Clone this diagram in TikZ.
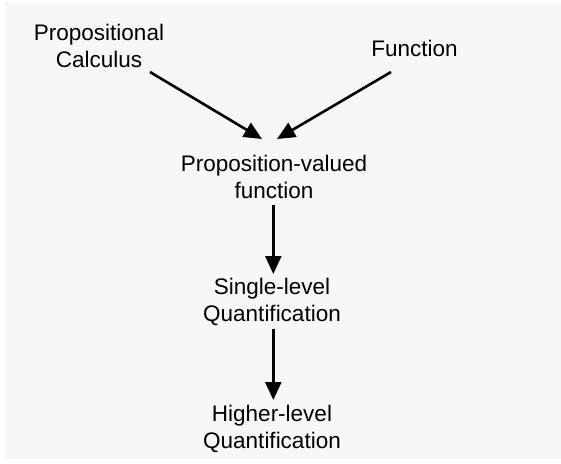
\documentclass[tikz,border=0pt]{standalone}
\usepackage{fontspec}
\setmainfont{Liberation Sans}
\usetikzlibrary{arrows.meta}
\definecolor{bggray}{RGB}{247,247,247}
\tikzset{
  lbl/.style={align=center, inner sep=0pt, anchor=base, font=\fontsize{22.5pt}{27pt}\selectfont},
  arr/.style={line width=2.6pt, -{Triangle[length=18pt,width=16pt]}}
}
\begin{document}
\begin{tikzpicture}[x=1pt,y=-1pt]
\useasboundingbox (0,0) rectangle (561,463);
\fill[white] (0,0) rectangle (561,463);
\fill[bggray] (5,2) rectangle (561,459);
\node[lbl] (pc) at (99,67) {Propositional\\Calculus};
\node[lbl] (fn) at (414.5,56) {Function};
\node[lbl] (pv) at (274,198) {Proposition-valued\\function};
\node[lbl] (sl) at (272,321) {Single-level\\Quantification};
\node[lbl] (hl) at (272,448) {Higher-level\\Quantification};
\coordinate (pcout) at (150,72);
\coordinate (fnout) at (391,72);
\coordinate (pvinl) at (262,139);
\coordinate (pvinr) at (277,139);
\coordinate (pvout) at (273.3,205);
\coordinate (slin) at (273.3,274);
\coordinate (slout) at (273.3,329);
\coordinate (hlin) at (273.3,400);
\draw[arr] (pcout) -- (pvinl);
\draw[arr] (fnout) -- (pvinr);
\draw[arr] (pvout) -- (slin);
\draw[arr] (slout) -- (hlin);
\end{tikzpicture}
\end{document}
